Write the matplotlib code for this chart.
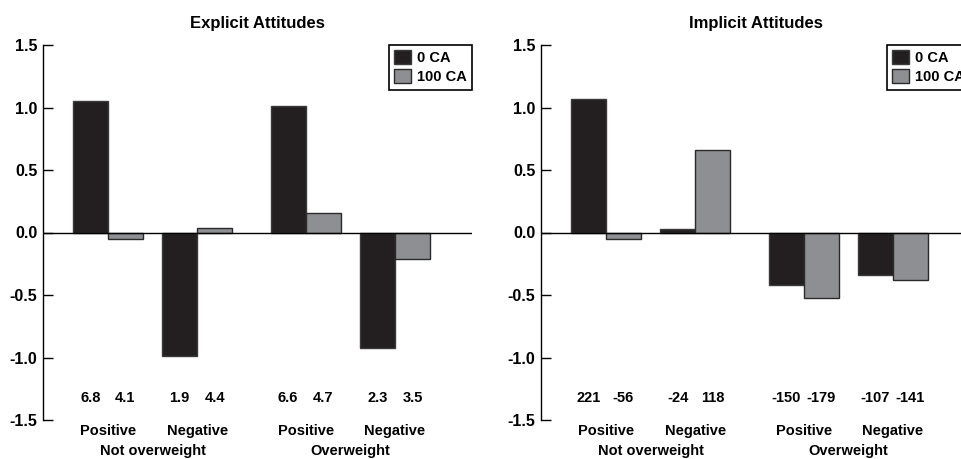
import numpy as np
import matplotlib
matplotlib.use("Agg")
import matplotlib.pyplot as plt

plt.rcParams['font.family'] = ['Liberation Sans', 'DejaVu Sans']
plt.rcParams['font.weight'] = 'bold'

# Datos
grupos = ["Positive", "Negative", "Positive", "Negative"]
condiciones = ["Not overweight", "Overweight"]
series = ["0 CA", "100 CA"]

explicit_0 = [1.05, -0.99, 1.01, -0.92]
explicit_100 = [-0.05, 0.04, 0.16, -0.21]
explicit_lbl_0 = ["6.8", "1.9", "6.6", "2.3"]
explicit_lbl_100 = ["4.1", "4.4", "4.7", "3.5"]

implicit_0 = [1.07, 0.03, -0.42, -0.34]
implicit_100 = [-0.05, 0.66, -0.52, -0.38]
implicit_lbl_0 = ["221", "-24", "-150", "-107"]
implicit_lbl_100 = ["-56", "118", "-179", "-141"]

yticks = [-1.5, -1.0, -0.5, 0.0, 0.5, 1.0, 1.5]

NEGRO = "#231f20"
GRIS = "#8e8f92"
CENTROS = np.array([1.85, 4.4, 7.5, 10.05])
ANCHO = 1.0


def panel(ax, titulo, v0, v100, l0, l100):
    ax.bar(CENTROS - ANCHO / 2, v0, ANCHO, color=NEGRO, edgecolor="#3a3a3a", lw=1, label=series[0], zorder=2)
    ax.bar(CENTROS + ANCHO / 2, v100, ANCHO, color=GRIS, edgecolor="#2a2a2a", lw=1, label=series[1], zorder=2)
    ax.axhline(0, color="black", lw=1, zorder=3)
    ax.set_xlim(0, 12.25)
    ax.set_ylim(-1.5, 1.5)
    ax.set_yticks(yticks)
    ax.set_yticklabels([f"{t:.1f}" for t in yticks], fontsize=11.5, fontweight="bold")
    ax.set_xticks([])
    for s in ["top", "right", "bottom"]:
        ax.spines[s].set_visible(False)
    ax.spines["left"].set_linewidth(1)
    ax.tick_params(axis="y", direction="in", length=7, width=1, pad=4)
    ax.set_title(titulo, fontsize=12, fontweight="bold", pad=12)

    for i, c in enumerate(CENTROS):
        ax.text(c - ANCHO / 2, -1.32, l0[i], ha="center", va="center", fontsize=10.5, fontweight="bold")
        ax.text(c + ANCHO / 2, -1.32, l100[i], ha="center", va="center", fontsize=10.5, fontweight="bold")
        ax.text(c, -1.585, grupos[i], ha="center", va="center", fontsize=10.5, fontweight="bold")
    for j in range(2):
        xc = (CENTROS[2 * j] + CENTROS[2 * j + 1]) / 2
        ax.text(xc, -1.745, condiciones[j], ha="center", va="center", fontsize=10.5, fontweight="bold")

    leg = ax.legend(loc="upper right", bbox_to_anchor=(1.0, 1.0), borderaxespad=0, fancybox=False,
                    edgecolor="black", framealpha=1, handlelength=1.2, handleheight=1.1,
                    handletextpad=0.4, labelspacing=0.3, borderpad=0.35,
                    prop={"weight": "bold", "size": 10.5})
    leg.get_frame().set_linewidth(1.2)


fig = plt.figure(figsize=(9.62, 4.59), dpi=100)
ax1 = fig.add_axes([43 / 962, 39 / 459, 429 / 962, 375 / 459])
ax2 = fig.add_axes([541 / 962, 39 / 459, 429 / 962, 375 / 459])

panel(ax1, "Explicit Attitudes", explicit_0, explicit_100, explicit_lbl_0, explicit_lbl_100)
panel(ax2, "Implicit Attitudes", implicit_0, implicit_100, implicit_lbl_0, implicit_lbl_100)

fig.savefig("out.png", dpi=100)
